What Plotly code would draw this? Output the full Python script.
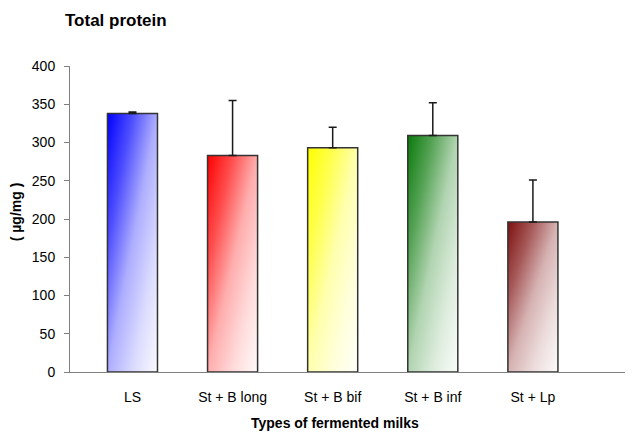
import base64
import plotly.graph_objects as go

categories = ["LS", "St + B long", "St + B bif", "St + B inf", "St + Lp"]
values = [338, 283, 293, 309, 196]
errors = [2, 72, 27, 43, 55]
colors = ["#0000ff", "#ff0000", "#ffff00", "#0a7a0a", "#7f0f0f"]
y_ticks = [0, 50, 100, 150, 200, 250, 300, 350, 400]


def mix(hexcol, w):
    r, g, b = int(hexcol[1:3], 16), int(hexcol[3:5], 16), int(hexcol[5:7], 16)
    r = round(r + (255 - r) * w)
    g = round(g + (255 - g) * w)
    b = round(b + (255 - b) * w)
    return f"#{r:02x}{g:02x}{b:02x}"


def grad_uri(col):
    stops = [(0, 0.0), (0.25, 0.3), (0.5, 0.68), (0.75, 0.86), (1, 0.98)]
    st = "".join(f'<stop offset="{o}" stop-color="{mix(col, w)}"/>' for o, w in stops)
    svg = ('<svg xmlns="http://www.w3.org/2000/svg" width="100" height="100" '
           'viewBox="0 0 100 100" preserveAspectRatio="none"><defs>'
           f'<linearGradient id="g" x1="0" y1="0" x2="1" y2="1">{st}</linearGradient>'
           '</defs><rect width="100" height="100" fill="url(#g)"/></svg>')
    return "data:image/svg+xml;base64," + base64.b64encode(svg.encode()).decode()


bar_w = 0.5
xs = list(range(len(categories)))

fig = go.Figure()
fig.add_trace(go.Bar(
    x=xs, y=values, width=bar_w,
    marker=dict(color="rgba(0,0,0,0)", line=dict(color="#333333", width=1.5)),
    error_y=dict(type="data", array=errors, arrayminus=[0] * len(errors),
                 symmetric=False, color="#1a1a1a", thickness=1.5, width=4),
    showlegend=False, hoverinfo="skip",
))

images = []
for i, (v, c) in enumerate(zip(values, colors)):
    images.append(dict(
        source=grad_uri(c), xref="x", yref="y",
        x=i - bar_w / 2, y=v, sizex=bar_w, sizey=v,
        xanchor="left", yanchor="top", sizing="stretch", layer="below",
    ))

font_family = "Liberation Sans, Arial, sans-serif"
fig.update_layout(
    width=628, height=424,
    margin=dict(l=62, r=11, t=58, b=60),
    paper_bgcolor="white", plot_bgcolor="white",
    images=images,
    font=dict(family=font_family, color="#000000", size=14),
    title=dict(text="<b>Total protein</b>", xref="container", yref="container",
               x=57 / 628, xanchor="left", y=1 - 12 / 424, yanchor="middle",
               font=dict(size=17, family=font_family, color="#000000")),
    xaxis=dict(
        range=[-0.624, 4.92], tickmode="array", tickvals=xs, ticktext=categories,
        showline=True, linecolor="#808080", linewidth=1, ticks="",
        showgrid=False, zeroline=False, ticklabelstandoff=12,
        tickfont=dict(size=14),
    ),
    yaxis=dict(
        range=[0, 400], tickmode="array", tickvals=y_ticks,
        showline=True, linecolor="#808080", linewidth=1,
        ticks="outside", ticklen=5, tickcolor="#808080",
        showgrid=False, zeroline=False, ticklabelstandoff=6,
        tickfont=dict(size=14),
    ),
    annotations=[
        dict(text="<b>( µg/mg )</b>", xref="paper", yref="paper",
             x=0, xshift=-54, y=0.522, xanchor="center", yanchor="middle",
             textangle=-90, showarrow=False, font=dict(size=14)),
        dict(text="<b>Types of fermented milks</b>", xref="x", yref="paper",
             x=2.02, y=0, yshift=-51, xanchor="center", yanchor="middle",
             showarrow=False, font=dict(size=14)),
    ],
)

fig.write_html("out.html")
